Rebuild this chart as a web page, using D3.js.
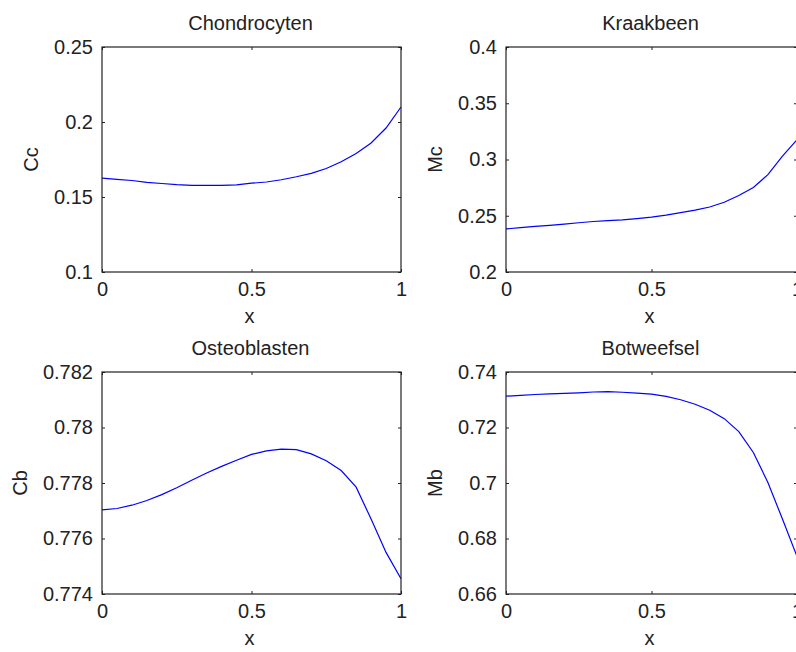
<!DOCTYPE html>
<html>
<head>
<meta charset="utf-8">
<script src="https://cdn.jsdelivr.net/npm/d3@7"></script>
<style>
body { margin: 0; background: #fff; overflow: hidden; }
text { font-family: "Liberation Sans", Arial, sans-serif; fill: #222; }
</style>
</head>
<body>
<div id="chart"></div>
<script>
// shared x grid
const xs = [0, 0.05, 0.1, 0.15, 0.2, 0.25, 0.3, 0.35, 0.4, 0.45, 0.5,
            0.55, 0.6, 0.65, 0.7, 0.75, 0.8, 0.85, 0.9, 0.95, 1];

// series
const cc = [0.1626, 0.1618, 0.1610, 0.1598, 0.1590, 0.1582, 0.1578, 0.1577, 0.1577, 0.1581, 0.1592,
            0.1600, 0.1615, 0.1635, 0.1658, 0.1690, 0.1735, 0.1790, 0.1860, 0.1960, 0.2100];
const mc = [0.2383, 0.2394, 0.2405, 0.2415, 0.2426, 0.2438, 0.2449, 0.2457, 0.2464, 0.2475, 0.2488,
            0.2505, 0.2527, 0.2550, 0.2578, 0.2620, 0.2680, 0.2752, 0.2865, 0.3030, 0.3175];
const cb = [0.77703, 0.77708, 0.77720, 0.77737, 0.77758, 0.77783, 0.77810, 0.77836, 0.77860, 0.77882, 0.77903,
            0.77916, 0.77922, 0.77920, 0.77905, 0.77880, 0.77845, 0.77785, 0.77670, 0.77550, 0.77455];
const mb = [0.7313, 0.7316, 0.7319, 0.7321, 0.7323, 0.7325, 0.7328, 0.7329, 0.7327, 0.7324, 0.7320,
            0.7312, 0.7300, 0.7284, 0.7262, 0.7232, 0.7185, 0.7110, 0.7002, 0.6870, 0.6735];

const titles = ["Chondrocyten", "Kraakbeen", "Osteoblasten", "Botweefsel"];
const yLabels = ["Cc", "Mc", "Cb", "Mb"];

const xTicks = [0, 0.5, 1];
const xTickLabels = ["0", "0.5", "1"];
const ccTicks = [0.1, 0.15, 0.2, 0.25];
const ccTickLabels = ["0.1", "0.15", "0.2", "0.25"];
const mcTicks = [0.2, 0.25, 0.3, 0.35, 0.4];
const mcTickLabels = ["0.2", "0.25", "0.3", "0.35", "0.4"];
const cbTicks = [0.774, 0.776, 0.778, 0.78, 0.782];
const cbTickLabels = ["0.774", "0.776", "0.778", "0.78", "0.782"];
const mbTicks = [0.66, 0.68, 0.7, 0.72, 0.74];
const mbTickLabels = ["0.66", "0.68", "0.7", "0.72", "0.74"];

// layout of the 2x2 grid
const colLeft = [102, 506], colRight = [401, 797];
const rowTop = [47, 372], rowBottom = [272, 594];

const svg = d3.select("#chart")
  .append("svg")
  .attr("width", 796)
  .attr("height", 652);

const panels = [
  { values: cc, ticks: ccTicks, labels: ccTickLabels, col: 0, row: 0 },
  { values: mc, ticks: mcTicks, labels: mcTickLabels, col: 1, row: 0 },
  { values: cb, ticks: cbTicks, labels: cbTickLabels, col: 0, row: 1 },
  { values: mb, ticks: mbTicks, labels: mbTickLabels, col: 1, row: 1 }
];

panels.forEach(function (p, k) {
  const left = colLeft[p.col], right = colRight[p.col];
  const top = rowTop[p.row], bottom = rowBottom[p.row];

  const x = d3.scaleLinear().domain([0, 1]).range([left, right]);
  const y = d3.scaleLinear()
    .domain([p.ticks[0], p.ticks[p.ticks.length - 1]])
    .range([bottom, top]);

  const g = svg.append("g");

  // the curve
  g.append("path")
    .datum(p.values)
    .attr("fill", "none")
    .attr("stroke", "#0000ff")
    .attr("stroke-width", 1.2)
    .attr("d", d3.line()
      .x(function (d, i) { return x(xs[i]); })
      .y(function (d) { return y(d); }));

  // axes, ticks pointing inward on all four sides
  const xb = g.append("g").attr("transform", "translate(0," + bottom + ")")
    .call(d3.axisBottom(x).tickValues(xTicks)
      .tickFormat(function (d, i) { return xTickLabels[i]; })
      .tickSizeInner(-3).tickSizeOuter(0).tickPadding(10));
  const xt = g.append("g").attr("transform", "translate(0," + top + ")")
    .call(d3.axisTop(x).tickValues(xTicks).tickFormat("")
      .tickSizeInner(-3).tickSizeOuter(0));
  const yl = g.append("g").attr("transform", "translate(" + left + ",0)")
    .call(d3.axisLeft(y).tickValues(p.ticks)
      .tickFormat(function (d, i) { return p.labels[i]; })
      .tickSizeInner(-3).tickSizeOuter(0).tickPadding(9));
  const yr = g.append("g").attr("transform", "translate(" + right + ",0)")
    .call(d3.axisRight(y).tickValues(p.ticks).tickFormat("")
      .tickSizeInner(-3).tickSizeOuter(0));

  [xb, xt, yl, yr].forEach(function (a) {
    a.select(".domain").remove();
    a.selectAll("line").attr("stroke", "#222");
    a.selectAll("text")
      .attr("font-family", "'Liberation Sans', Arial, sans-serif")
      .attr("font-size", 20)
      .attr("fill", "#222");
  });

  // box
  g.append("rect")
    .attr("x", left)
    .attr("y", top)
    .attr("width", right - left)
    .attr("height", bottom - top)
    .attr("fill", "none")
    .attr("stroke", "#222")
    .attr("stroke-width", 1.2);

  // title and axis labels
  g.append("text")
    .attr("x", (left + right) / 2 - 1)
    .attr("y", top - 17)
    .attr("text-anchor", "middle")
    .attr("font-size", 20)
    .text(titles[k]);

  g.append("text")
    .attr("x", (left + right) / 2 - 2)
    .attr("y", bottom + 51)
    .attr("text-anchor", "middle")
    .attr("font-size", 20)
    .text("x");

  let minX = left;
  yl.selectAll("text").each(function () {
    const b = this.getBBox();
    minX = Math.min(minX, left + b.x);
  });
  g.append("text")
    .attr("transform", "translate(" + (minX - 16) + "," + (top + bottom) / 2 + ") rotate(-90)")
    .attr("text-anchor", "middle")
    .attr("font-size", 20)
    .text(yLabels[k]);
});
</script>
</body>
</html>
